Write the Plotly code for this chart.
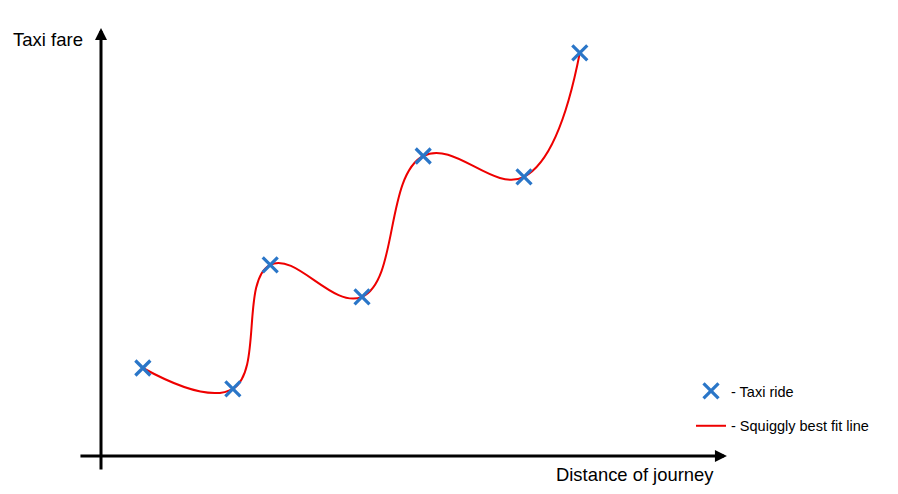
import plotly.graph_objects as go

# Data (arbitrary units: distance vs fare)
distance = [0.93, 2.93, 3.76, 5.80, 7.16, 9.40, 10.64]
fare = [2.20, 1.68, 4.78, 3.98, 7.50, 6.98, 10.08]

ride_label = "- Taxi ride"
fit_label = "- Squiggly best fit line"
x_title = "Distance of journey"
y_title = "Taxi fare"

W, H = 898, 494
FONT = "Liberation Sans, Arial, Helvetica, sans-serif"

fig = go.Figure()

fig.add_trace(go.Scatter(
    x=distance, y=fare, mode="lines", name=fit_label,
    line=dict(color="#ee0000", width=2, shape="spline", smoothing=1.2),
    legendgroup="b", legendrank=2,
))
fig.add_trace(go.Scatter(
    x=distance, y=fare, mode="markers", name=ride_label,
    marker=dict(symbol="x-thin", size=15, color="#2a76c8",
                line=dict(color="#2a76c8", width=3.2)),
    legendgroup="a", legendrank=1,
))

# axis arrows (origin at 0,0)
x_min, x_max = -0.49, 13.91
y_min, y_max = -0.375, 10.7
fig.add_annotation(x=0, y=y_max, ax=0, ay=y_min, xref="x", yref="y",
                   axref="x", ayref="y", text="", showarrow=True,
                   arrowhead=2, arrowsize=0.8, arrowwidth=3, arrowcolor="black")
fig.add_annotation(x=x_max, y=0, ax=x_min, ay=0, xref="x", yref="y",
                   axref="x", ayref="y", text="", showarrow=True,
                   arrowhead=2, arrowsize=0.8, arrowwidth=3, arrowcolor="black")

fig.add_annotation(x=11/W, y=1 - 39/H, xref="paper", yref="paper",
                   text=y_title, showarrow=False, xanchor="left", yanchor="middle",
                   font=dict(family=FONT, size=18.5, color="black"))
fig.add_annotation(x=716/W, y=1 - 474/H, xref="paper", yref="paper",
                   text=x_title, showarrow=False, xanchor="right", yanchor="middle",
                   font=dict(family=FONT, size=18.4, color="black"))

fig.update_layout(
    width=W, height=H,
    margin=dict(l=0, r=0, t=0, b=0),
    paper_bgcolor="white", plot_bgcolor="white",
    xaxis=dict(range=[-101 / 45, (W - 101) / 45], visible=False, fixedrange=True),
    yaxis=dict(range=[(456 - H) / 40, 456 / 40], visible=False, fixedrange=True),
    showlegend=True,
    legend=dict(x=691 / W, y=1 - 375 / H, xanchor="left", yanchor="top",
                traceorder="grouped", tracegroupgap=13,
                font=dict(family=FONT, size=14.5, color="black"),
                bgcolor="rgba(0,0,0,0)"),
)

fig.write_html("out.html", config={"displayModeBar": False},
               post_script="document.body.style.margin='0';document.body.style.padding='0';")
